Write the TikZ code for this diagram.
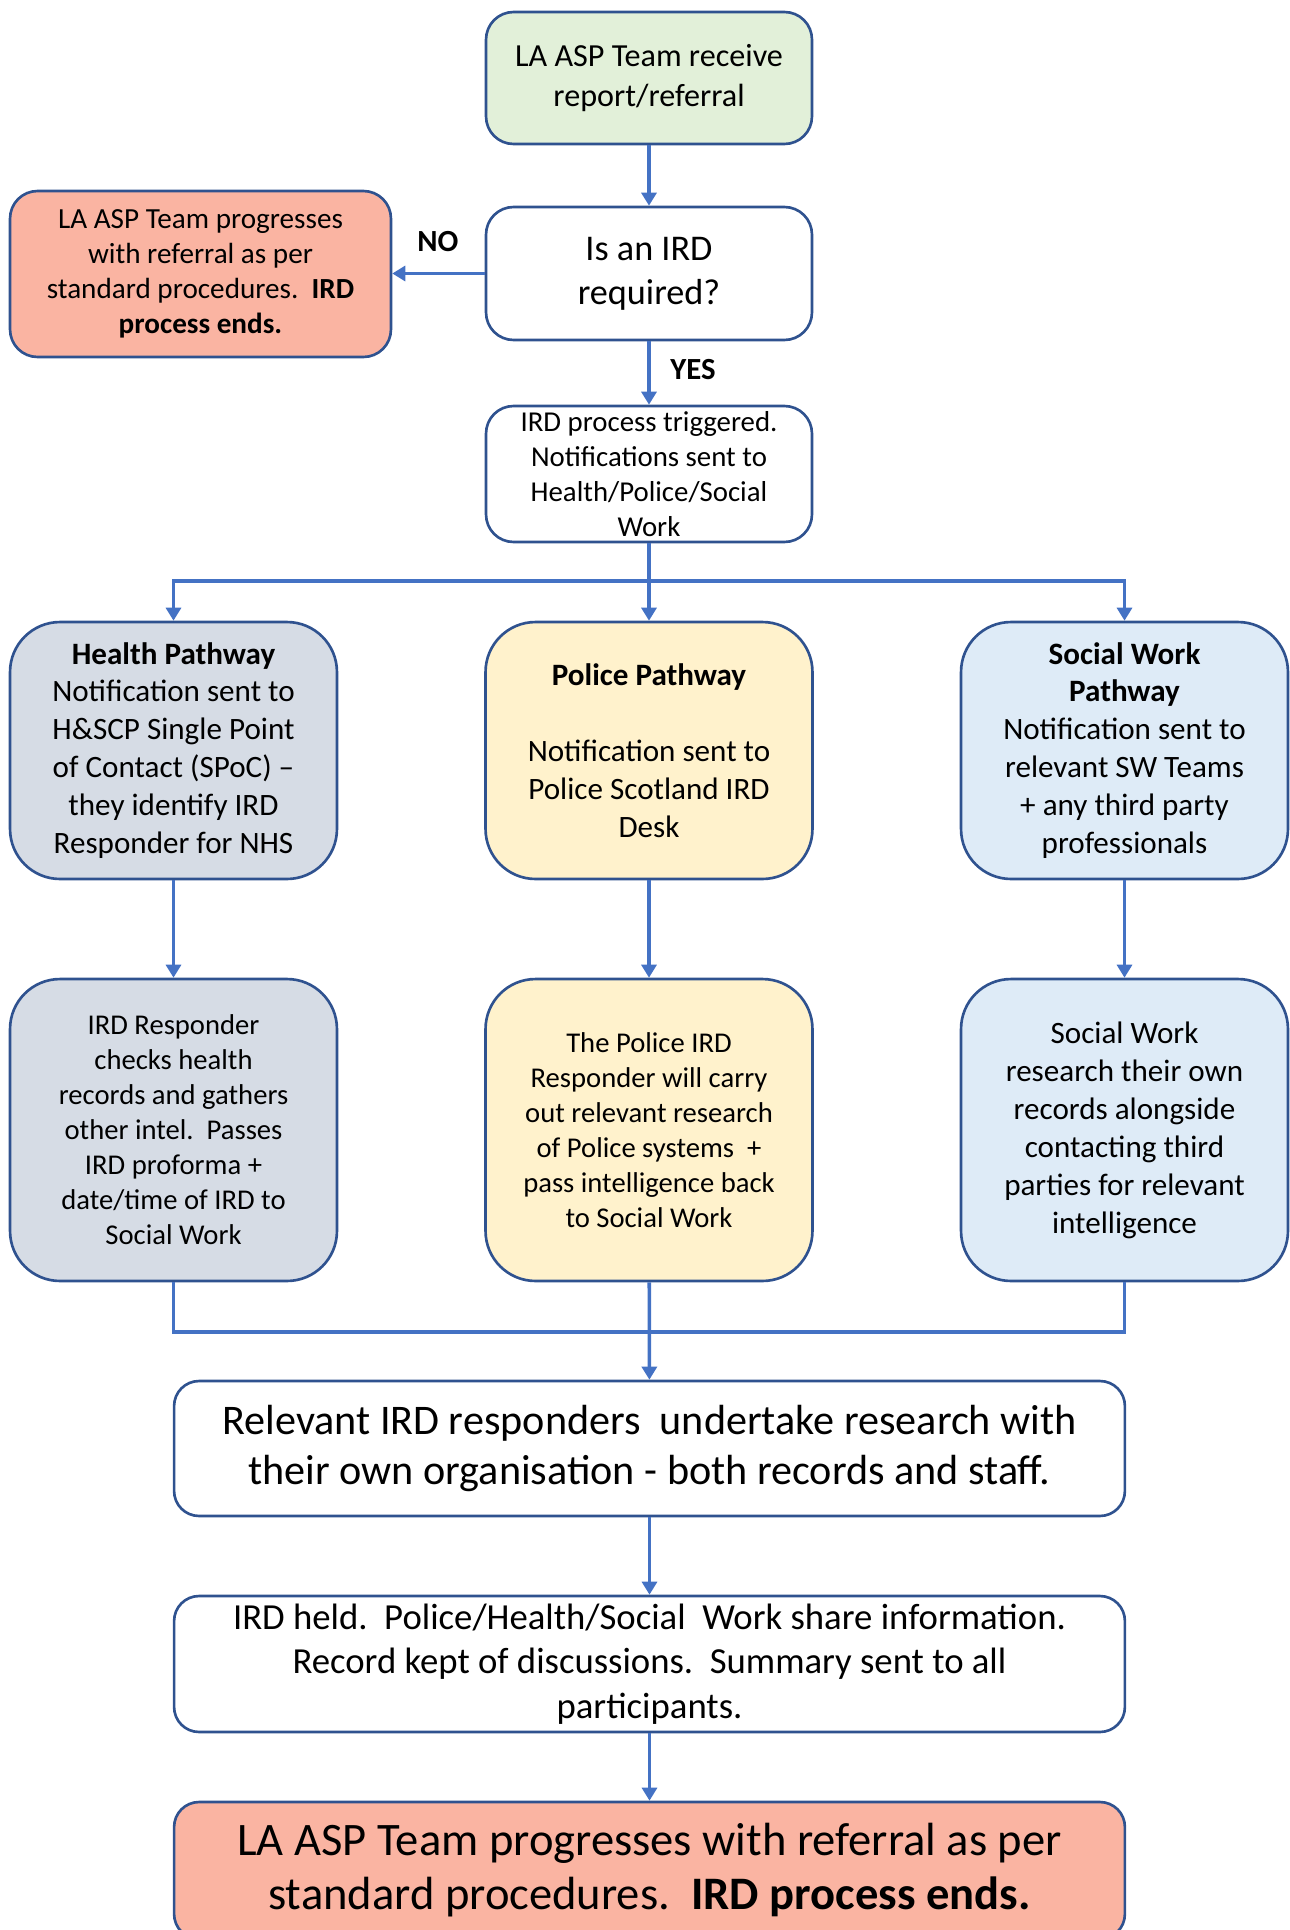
\documentclass[tikz,border=0pt]{standalone}
\usepackage{fontspec}
\setmainfont{Carlito}
\usepackage{xcolor}
\usepackage{tikz}
\usetikzlibrary{positioning,arrows.meta}

\definecolor{bordc}{HTML}{2F528F}
\definecolor{arrc}{HTML}{4472C4}
\definecolor{greenf}{HTML}{E2F0D9}
\definecolor{redf}{RGB}{250,180,162}
\definecolor{healthf}{HTML}{D6DCE5}
\definecolor{policef}{HTML}{FFF2CC}
\definecolor{swf}{HTML}{DEEBF7}

\tikzset{
	box/.style={rectangle, draw=bordc, line width=1.5pt, rounded corners=0.55cm, align=center, inner sep=0pt},
	smallbox/.style={box, minimum width=6.52cm},
	pathbox/.style={box, rounded corners=1cm, minimum width=6.54cm, font=\fontsize{17.7}{21.6}\selectfont},
	widebox/.style={box, rounded corners=0.5cm, minimum width=19.02cm},
	link/.style={draw=arrc, line width=2pt},
	arr/.style={link, -{Triangle[length=7.4pt,width=8.5pt]}},
	yesno/.style={font=\fontsize{17.5}{21}\selectfont\bfseries}
}

\begin{document}
\begin{tikzpicture}[x=0.02cm, y=-0.02cm]
			\useasboundingbox (0,0) rectangle (1290,1930);
			% top of the chart
			\node[smallbox, fill=greenf, minimum height=2.64cm, font=\fontsize{18.3}{22.3}\selectfont] (rec) at (649,78) {LA ASP Team receive\\report/referral};
			\node[smallbox, fill=white, minimum height=2.66cm, font=\fontsize{20.6}{25.1}\selectfont] (ask) at (649,273.5) {Is an IRD\\required?};
			\node[box, fill=redf, minimum width=7.62cm, minimum height=3.32cm, font=\fontsize{16.6}{20}\selectfont] (stop) at (200.5,274) {LA ASP Team progresses\\with referral as per\\standard procedures.\ \ \textbf{IRD}\\\textbf{process ends.}};
			\node[smallbox, fill=white, minimum height=2.72cm, font=\fontsize{16.4}{20}\selectfont] (trig) at (649,474) {IRD process triggered.\\Notifications sent to\\Health/Police/Social\\Work};
			\node[yesno] (nolab) at (438,242) {NO};
			\node[yesno] (yeslab) at (693,370) {YES};
			% pathways
			\node[pathbox, fill=healthf, minimum height=5.14cm] (hp) at (173.5,750.5) {\textbf{Health Pathway}\\Notification sent to\\H\&SCP Single Point\\of Contact (SPoC) --\\they identify IRD\\Responder for NHS};
			\node[pathbox, fill=policef, minimum height=5.14cm] (pp) at (649,750.5) {\textbf{Police Pathway}\\[21.6pt]Notification sent to\\Police Scotland IRD\\Desk};
			\node[pathbox, fill=swf, minimum height=5.14cm] (sp) at (1124.5,750.5) {\textbf{Social Work}\\\textbf{Pathway}\\Notification sent to\\relevant SW Teams\\+ any third party\\professionals};
			\node[pathbox, fill=healthf, minimum height=6.04cm, font=\fontsize{16.3}{19.9}\selectfont] (hr) at (173.5,1130) {IRD Responder\\checks health\\records and gathers\\other intel.\ \ Passes\\IRD proforma +\\date/time of IRD to\\Social Work};
			\node[pathbox, fill=policef, minimum height=6.04cm, font=\fontsize{16.3}{19.9}\selectfont] (pr) at (649,1130) {The Police IRD\\Responder will carry\\out relevant research\\of Police systems\ \ +\\pass intelligence back\\to Social Work};
			\node[pathbox, fill=swf, minimum height=6.04cm] (sr) at (1124.5,1130) {Social Work\\research their own\\records alongside\\contacting third\\parties for relevant\\intelligence};
			% bottom of the chart
			\node[widebox, fill=white, minimum height=2.7cm, font=\fontsize{24}{28.6}\selectfont] (res) at (649.5,1448.5) {Relevant IRD responders\ \ undertake research with\\their own organisation - both records and staff.};
			\node[widebox, fill=white, minimum height=2.72cm, font=\fontsize{20.9}{25.5}\selectfont] (held) at (649.5,1664) {IRD held.\ \ Police/Health/Social\ \ Work share information.\\Record kept of discussions.\ \ Summary sent to all\\participants.};
			\node[widebox, fill=redf, minimum height=2.74cm, font=\fontsize{26.5}{30.7}\selectfont] (fin) at (649.5,1870.5) {LA ASP Team progresses with referral as per\\standard procedures.\ \ \textbf{IRD process ends.}};
			% connectors
			\coordinate (split) at (649,581);
			\coordinate (join) at (649,1332);
			\draw[arr] (rec) -- (ask);
			\draw[arr] (ask.west) -- (ask.west -| stop.east);
			\draw[arr] (ask) -- (trig);
			\draw[link] (trig) -- (split);
			\draw[arr] (split) -| (hp);
			\draw[arr] (split) -- (pp);
			\draw[arr] (split) -| (sp);
			\draw[arr] (hp) -- (hr);
			\draw[arr] (pp) -- (pr);
			\draw[arr] (sp) -- (sr);
			\draw[link] (hr) |- (join);
			\draw[link] (sr) |- (join);
			\draw[arr] (pr) -- (res);
			\draw[arr] (res) -- (held);
			\draw[arr] (held) -- (fin);
		\end{tikzpicture}
\end{document}
